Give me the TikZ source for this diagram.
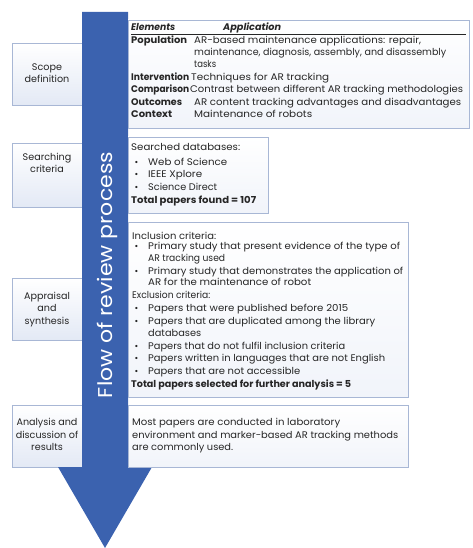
\documentclass[tikz,border=0pt]{standalone}
\usepackage{fontspec}
\usepackage{graphicx}
\setmainfont{Poppins}
\usetikzlibrary{shadows}
\definecolor{arrowblue}{HTML}{3B62AF}
\definecolor{boxline}{HTML}{A8B7D5}
\definecolor{boxfill}{HTML}{E3E9F5}
\definecolor{txtc}{HTML}{262626}
\tikzset{
  lbox/.style={draw=boxline, line width=0.8pt, top color=white, bottom color=boxfill},
  rbox/.style={draw=boxline, line width=0.8pt, top color=white, bottom color=boxfill!50,
    drop shadow={opacity=0.15, shadow xshift=1pt, shadow yshift=-1pt}},
  txt/.style={anchor=mid west, inner sep=0pt, font=\fontsize{9.6}{12}\selectfont, text=txtc},
  lab/.style={anchor=mid, inner sep=0pt, font=\fontsize{9.6}{12}\selectfont, text=txtc},
  bul/.style={anchor=mid west, inner sep=0pt, font=\fontsize{9}{12}\selectfont, text=txtc}
}
% name, x-start, y, x-end, text
\newcommand{\tline}[5]{\node[txt] (#1) at (#2,#3) {\resizebox{\dimexpr#4pt-#2pt\relax}{\height}{#5}};}
\newcommand{\bline}[5]{\node[bul] (#1b) at (134.5,#3) {•}; \tline{#1}{#2}{#3}{#4}{#5}}
\newcommand{\lline}[3]{\node[lab] (#1) at (47,#2) {#3};}
\begin{document}
\begin{tikzpicture}[x=1pt,y=-1pt]
\useasboundingbox (0,0) rectangle (472,548);
% left boxes
\path[lbox] (12,43) rectangle (95,105);
\path[lbox] (12,143) rectangle (95,207);
\path[lbox] (12,278) rectangle (95,340);
\path[lbox] (12,405) rectangle (95,467);
\lline{scope1}{68}{Scope}
\lline{scope2}{80}{definition}
\lline{srch1}{158}{Searching}
\lline{srch2}{170}{criteria}
\lline{app1}{297}{Appraisal}
\lline{app2}{309}{and}
\lline{app3}{322}{synthesis}
\lline{ana1}{423}{Analysis and}
\lline{ana2}{436}{discussion of}
\lline{ana3}{448}{results}
% arrow
\fill[arrowblue] (82,12) -- (128,12) -- (128,467) -- (152,467) -- (105,548) -- (58,467) -- (82,467) -- cycle;
\node[rotate=90, anchor=base, text=white, inner sep=0pt, font=\fontsize{20}{24}\selectfont] (flow) at (112.5,275) {\resizebox{246pt}{\height}{Flow of review process}};
% right boxes
\path[rbox] (128,20) rectangle (469,128);
\path[rbox] (128,137) rectangle (268,213);
\path[rbox] (128,222) rectangle (408,397);
\path[rbox] (128,405) rectangle (408,467);
% table
\tline{hel}{131}{28}{175}{\textbf{\textit{Elements}}}
\tline{hap}{223}{28}{281}{\textbf{\textit{Application}}}
\draw[txtc, line width=0.6pt] (131,34) -- (466,34);
\tline{pop}{131}{41}{187}{\textbf{Population}}
\tline{popa}{194}{41}{421}{AR-based maintenance applications: repair,}
\tline{popb}{194}{53}{446}{maintenance, diagnosis, assembly, and disassembly}
\tline{popc}{194}{65}{216}{tasks}
\tline{int}{131}{78}{189}{\textbf{Intervention}}
\tline{inta}{191}{78}{329}{Techniques for AR tracking}
\tline{com}{131}{90}{189}{\textbf{Comparison}}
\tline{coma}{190}{90}{463}{Contrast between different AR tracking methodologies}
\tline{out}{131}{103}{182}{\textbf{Outcomes}}
\tline{outa}{194}{103}{461}{AR content tracking advantages and disadvantages}
\tline{con}{131}{115}{172}{\textbf{Context}}
\tline{cona}{194}{115}{312}{Maintenance of robots}
% searching
\tline{s0}{131}{148}{240}{Searched databases:}
\bline{s1}{148}{163}{227}{Web of Science}
\bline{s2}{148}{175}{202}{IEEE Xplore}
\bline{s3}{148}{188}{217}{Science Direct}
\tline{s4}{131}{201}{256}{\textbf{Total papers found = 107}}
% appraisal
\tline{a0}{132}{237}{216}{Inclusion criteria:}
\bline{a1}{148}{247}{400}{Primary study that present evidence of the type of}
\tline{a1b}{148}{259}{225}{AR tracking used}
\bline{a2}{148}{272}{403}{Primary study that demonstrates the application of}
\tline{a2b}{148}{283}{311}{AR for the maintenance of robot}
\tline{a3}{132}{296}{210}{Exclusion criteria:}
\bline{a4}{148}{309}{348}{Papers that were published before 2015}
\bline{a5}{148}{322}{375}{Papers that are duplicated among the library}
\tline{a5b}{148}{334}{201}{databases}
\bline{a6}{148}{347}{345}{Papers that do not fulfil inclusion criteria}
\bline{a7}{148}{359}{385}{Papers written in languages that are not English}
\bline{a8}{148}{372}{300}{Papers that are not accessible}
\tline{a9}{131}{385}{351}{\textbf{Total papers selected for further analysis = 5}}
% analysis
\tline{r1}{132}{423}{340}{Most papers are conducted in laboratory}
\tline{r2}{132}{436}{398}{environment and marker-based AR tracking methods}
\tline{r3}{132}{448}{233}{are commonly used.}
\end{tikzpicture}
\end{document}
